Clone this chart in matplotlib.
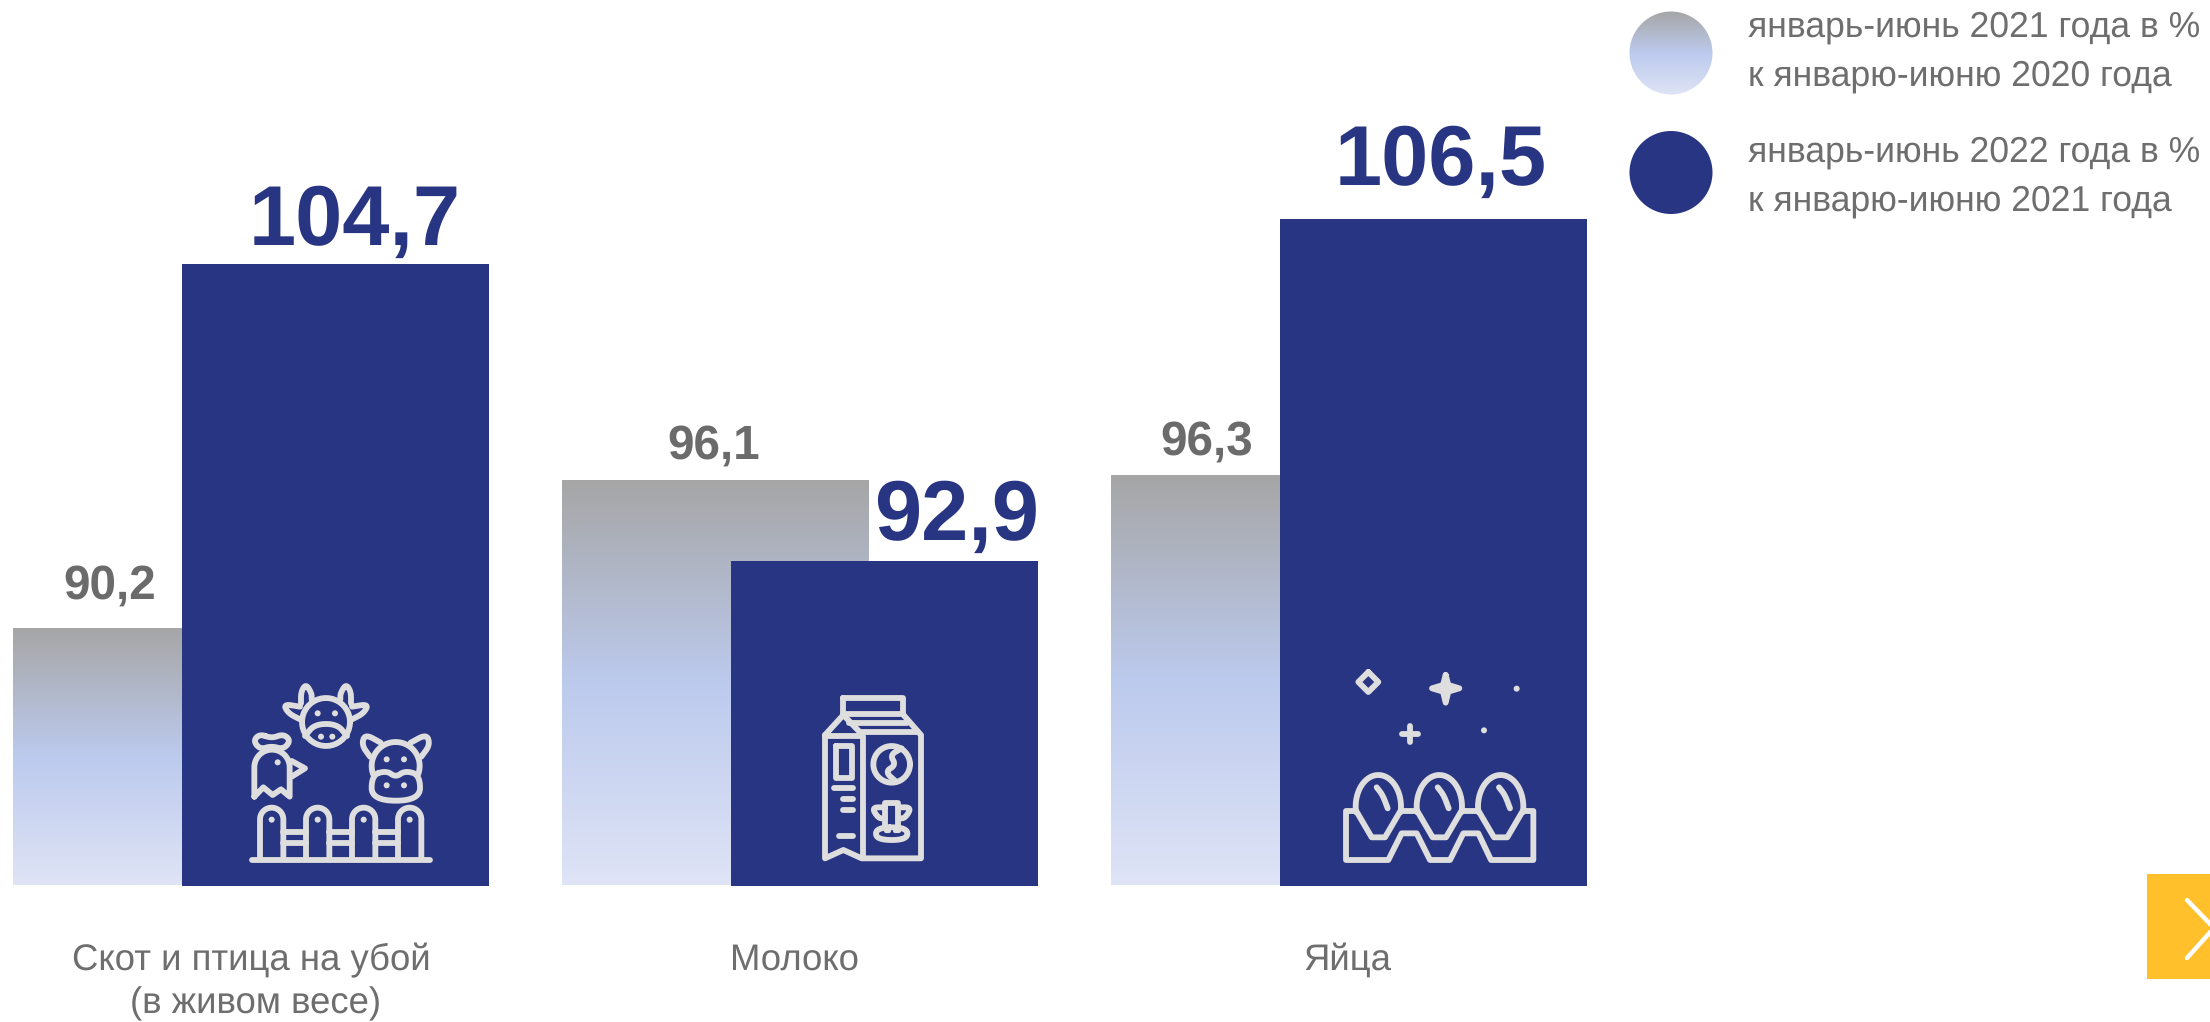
import numpy as np
import matplotlib.pyplot as plt
from matplotlib.colors import LinearSegmentedColormap
from matplotlib.patches import Circle, Rectangle

plt.rcParams['font.family'] = ['Liberation Sans', 'DejaVu Sans']
plt.rcParams['text.hinting'] = 'none'

# chart data
categories = [['Скот и птица на убой', '(в живом весе)'], ['Молоко'], ['Яйца']]
values_2021 = [90.2, 96.1, 96.3]
values_2022 = [104.7, 92.9, 106.5]
legend_2021 = ['январь-июнь 2021 года в %', 'к январю-июню 2020 года']
legend_2022 = ['январь-июнь 2022 года в %', 'к январю-июню 2021 года']

NAVY = '#283583'
GREY_TEXT = '#6E6E6E'
ICON = '#DEDEDE'
W, H = 2210, 1022
BASE = 80.0
PX_PER_UNIT = 25.15
BASE_Y = 885.5

grad_cmap = LinearSegmentedColormap.from_list(
    'grad', [(0, '#A6A6A6'), (0.5, '#BCCAED'), (1, '#DFE4F6')])
grad = np.linspace(0, 1, 256).reshape(-1, 1)

fig = plt.figure(figsize=(W / 100, H / 100), dpi=100)

# the value axis starts at 80, so bars are drawn in data units on it
ax = fig.add_axes([0, 0, 1, 1])
ylim = (BASE - (H - BASE_Y) / PX_PER_UNIT, BASE + BASE_Y / PX_PER_UNIT)
ax.axis('off')

left = np.arange(len(categories)) * 549 + 13
bar_w = 307
for x, v in zip(left, values_2021):
    ax.imshow(grad, cmap=grad_cmap, extent=[x, x + bar_w, BASE, v], aspect='auto',
              origin='upper', zorder=1, interpolation='bilinear')
ax.bar(left + 169, np.array(values_2022) - BASE, bottom=BASE, width=bar_w,
       align='edge', color=NAVY, zorder=2)
ax.set_xlim(0, W)
ax.set_ylim(*ylim)

# pixel overlay for labels, legend and pictograms
ov = fig.add_axes([0, 0, 1, 1])
ov.set_xlim(0, W)
ov.set_ylim(H, 0)
ov.axis('off')
ov.patch.set_alpha(0)

# value labels
grey_x = [110, 714, 1207]
grey_y = [599, 459, 455]
navy_x = [355, 957, 1441]
navy_y = [245, 540, 185]
for x, y, v in zip(grey_x, grey_y, values_2021):
    ov.text(x, y, f'{v:.1f}'.replace('.', ','), fontsize=34.3, fontweight='bold',
            color='#6B6B6B', ha='center', va='baseline')
for x, y, v in zip(navy_x, navy_y, values_2022):
    ov.text(x, y, f'{v:.1f}'.replace('.', ','), fontsize=61, fontweight='bold',
            color=NAVY, ha='center', va='baseline')

# category labels, the second line sits a little to the right in the original
cat_x = [251, 794, 1347]
for x, lines in zip(cat_x, categories):
    for i, c in enumerate(lines):
        ov.text(x + i * 5, 970 + i * 43, c, fontsize=26.3, color=GREY_TEXT, ha='center', va='baseline')

# legend
ov.imshow(grad, cmap=grad_cmap, extent=[1629, 1713, 95, 11], aspect='auto',
          origin='upper', zorder=1, interpolation='bilinear',
          clip_path=Circle((1671, 53), 41.5, transform=ov.transData))
ov.add_patch(Circle((1671, 172.5), 41.5, color=NAVY, lw=0))
ov.set_xlim(0, W)
ov.set_ylim(H, 0)
for y1, lines in zip([37, 162], [legend_2021, legend_2022]):
    ov.text(1748, y1, lines[0], fontsize=25.6, color=GREY_TEXT, va='baseline')
    ov.text(1748, y1 + 49, lines[1], fontsize=25.6, color=GREY_TEXT, va='baseline')

# next-slide button
ov.add_patch(Rectangle((2147, 874), 70, 105, color='#FFC02B', lw=0))
ov.plot([2187, 2214, 2187], [900, 928, 958], color='white', lw=3.2, solid_capstyle='round')


def chaikin(pts, closed=False, n=3):
    pts = np.array(pts, float)
    for _ in range(n):
        if closed:
            nxt = np.roll(pts, -1, axis=0)
            pts = np.column_stack([0.75 * pts + 0.25 * nxt, 0.25 * pts + 0.75 * nxt]).reshape(-1, 2)
        else:
            a, b = pts[:-1], pts[1:]
            mid = np.column_stack([0.75 * a + 0.25 * b, 0.25 * a + 0.75 * b]).reshape(-1, 2)
            pts = np.vstack([pts[0], mid, pts[-1]])
    return pts


def arc(cx, cy, rx, ry, a0, a1):
    t = np.radians(np.linspace(a0, a1, 40))
    return np.column_stack([cx + rx * np.cos(t), cy - ry * np.sin(t)])


class Icon():
    # coordinates are taken in a 3x crop, origin is the crop corner
    def __init__(self, ox, oy):
        self.ox = ox
        self.oy = oy

    def line(self, pts, closed=False, smooth=False, lw=4.2):
        pts = chaikin(pts, closed) if smooth else np.array(pts, float)
        if closed:
            pts = np.vstack([pts, pts[0]])
        ov.plot(self.ox + pts[:, 0] / 3, self.oy + pts[:, 1] / 3, color=ICON, lw=lw,
                solid_capstyle='round', solid_joinstyle='round', zorder=5)

    def dot(self, x, y, r=9):
        ov.add_patch(Circle((self.ox + x / 3, self.oy + y / 3), r / 3, color=ICON, lw=0, zorder=5))

    def circle(self, x, y, r):
        self.line(arc(x, y, r, r, 0, 360))


# farm
farm = Icon(220, 660)
farm.line([(96, 600), (630, 600)])
pickets = [155, 293, 431, 569]
for c in pickets:
    farm.line(np.vstack([(c - 35, 597), arc(c, 478, 35, 35, 180, 0), (c + 35, 597)]))
    farm.dot(c, 479)
for c in pickets[:-1]:
    farm.line([(c + 35, 515), (c + 103, 515)])
    farm.line([(c + 35, 548), (c + 103, 548)])
farm.circle(318, 186, 72)
farm.line([(255, 228), (285, 192), (351, 192), (381, 228)], smooth=True)
for p in [(293, 160), (345, 160), (303, 230), (337, 230)]:
    farm.dot(*p)
for sx in (1, -1):
    m = lambda x: 318 + sx * (x - 318)
    farm.line([(m(243), 130), (m(243), 95), (m(258), 72), (m(275), 100), (m(275), 118)], smooth=True)
    farm.line([(m(240), 178), (m(205), 160), (m(190), 132), (m(240), 140)], smooth=True)
# pig
farm.line(arc(527, 318, 72, 72, 200, -20))
farm.line([(455, 345), (500, 332), (527, 352), (555, 332), (600, 345), (600, 422), (455, 422)],
          closed=True, smooth=True)
farm.line([(450, 290), (425, 255), (435, 222), (482, 248)], smooth=True)
farm.line([(604, 290), (630, 255), (620, 222), (572, 248)], smooth=True)
for p in [(500, 298), (552, 298), (500, 376), (552, 376)]:
    farm.dot(*p)
# hen
farm.line(np.vstack([(103, 410), arc(156, 322, 53, 53, 180, 0), (209, 410),
                     (183, 388), (158, 405), (130, 382), (103, 410)]))
farm.line([(120, 222), (155, 235), (190, 222), (212, 242), (190, 268), (155, 258), (120, 268), (100, 242)],
          closed=True, smooth=True)
farm.line([(215, 303), (255, 325), (215, 350)])
farm.dot(173, 307)

# milk carton
milk = Icon(790, 670)
milk.line([(160, 85), (338, 85), (338, 132), (160, 132)], closed=True)
milk.line([(105, 195), (160, 135), (213, 190)])
milk.line([(105, 195), (105, 565), (160, 540), (215, 565), (393, 565), (393, 195), (338, 132)])
milk.line([(178, 158), (352, 158)])
milk.line([(213, 187), (385, 187)])
milk.line([(105, 198), (218, 198), (218, 565)])
milk.line([(137, 228), (187, 228), (187, 325), (137, 325)], closed=True)
milk.line([(133, 355), (190, 355)])
milk.line([(158, 387), (190, 387)])
milk.line([(158, 420), (190, 420)])
milk.line([(148, 498), (190, 498)])
milk.circle(305, 283, 55)
milk.line([(335, 235), (300, 255), (318, 285), (285, 305), (318, 335)], smooth=True)
milk.line([(285, 470), (285, 398), (325, 398), (325, 470)])
milk.line([(285, 412), (245, 412), (265, 445), (285, 445)], smooth=True)
milk.line([(325, 412), (365, 412), (345, 445), (325, 445)], smooth=True)
milk.line([(258, 472), (352, 472), (352, 510), (258, 510)], closed=True, smooth=True)
milk.line([(288, 483), (298, 483)], lw=3)
milk.line([(316, 483), (326, 483)], lw=3)

# eggs
eggs = Icon(1320, 650)
eggs.line([(145, 66), (175, 96), (145, 126), (115, 96)], closed=True)
eggs.line([(377, 75), (385, 105), (418, 115), (385, 125), (377, 158), (369, 125), (336, 115), (369, 105)],
          closed=True)
eggs.dot(377, 115, 12)
eggs.line([(270, 228), (270, 276)])
eggs.line([(246, 252), (294, 252)])
eggs.dot(590, 116)
eggs.dot(492, 241)
for c in [175, 358, 542]:
    eggs.line(arc(c, 470, 68, 95, 190, -10))
    eggs.line([(c - 68, 480), (c - 20, 562), (c + 20, 562), (c + 68, 480)])
    eggs.line([(c - 5, 412), (c + 13, 435), (c + 28, 475)], smooth=True)
eggs.line([(243, 483), (290, 483)])
eggs.line([(427, 483), (474, 483)])
eggs.line([(107, 483), (78, 483), (78, 630), (205, 630), (245, 550), (290, 550), (330, 630),
           (390, 630), (430, 550), (475, 550), (513, 630), (640, 630), (640, 483), (610, 483)])

fig.savefig('out.png', dpi=100)
